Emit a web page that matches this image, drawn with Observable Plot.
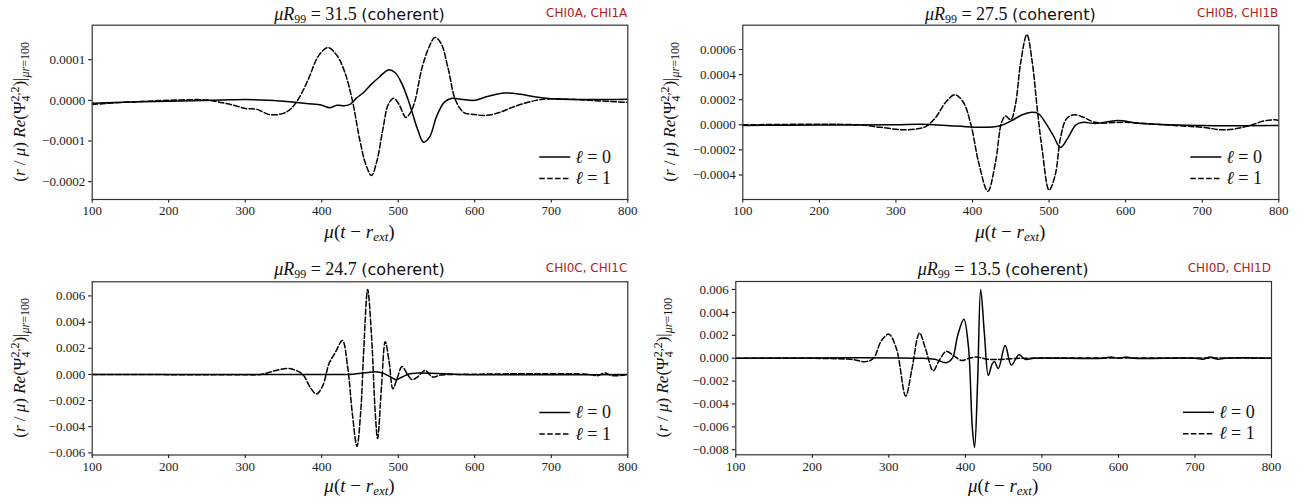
<!DOCTYPE html>
<html><head><meta charset="utf-8">
<script src="https://cdn.jsdelivr.net/npm/d3@7"></script>
<script src="https://cdn.jsdelivr.net/npm/@observablehq/plot@0.6"></script>
<style>
body{margin:0;background:#fff;}
#root{position:relative;width:1306px;height:504px;overflow:hidden;}
#root > svg{position:absolute;}
</style></head><body><div id="root"></div>
<script>
// ---------- data ----------
const xTicks = [100, 200, 300, 400, 500, 600, 700, 800];
const radii = ["31.5", "27.5", "24.7", "13.5"];
const runLabels = ["CHI0A, CHI1A", "CHI0B, CHI1B", "CHI0C, CHI1C", "CHI0D, CHI1D"];
const legendLabels = ["0", "1"];

const yTicksA = [-0.0002, -0.0001, 0, 0.0001];
const yTicksB = [-0.0004, -0.0002, 0, 0.0002, 0.0004, 0.0006];
const yTicksC = [-0.006, -0.004, -0.002, 0, 0.002, 0.004, 0.006];
const yTicksD = [-0.008, -0.006, -0.004, -0.002, 0, 0.002, 0.004, 0.006];

const l0A = [[100,-0.000007],[150,-0.000004],[200,-0.000002],[270,0.000001],[300,0.000002],[320,0.000001],[350,-0.000002],[380,-0.000008],[400,-0.000012],[410,-0.000018],[420,-0.000012],[430,-0.000013],[437,-0.00001],[445,0.000005],[455,0.00002],[465,0.00004],[475,0.000057],[487,0.000075],[496,0.000068],[505,0.00004],[515,-0.00001],[525,-0.00007],[533,-0.000103],[541,-0.00009],[550,-0.00004],[560,-0.000005],[570,0.000005],[582,0.000003],[600,0.0],[615,0.000009],[640,0.000018],[660,0.000015],[680,0.000008],[700,0.000004],[750,0.000002],[800,0.000003]];
const l1A = [[100,-0.00001],[150,-0.000004],[200,0.0],[250,0.000001],[270,-0.000006],[285,-0.000012],[300,-0.00002],[315,-0.000022],[332,-0.000035],[350,-0.000032],[360,-0.00002],[370,0.000005],[382,0.00005],[396,0.00011],[408,0.00013],[420,0.00011],[430,0.00007],[440,0.0],[450,-0.0001],[458,-0.00016],[465,-0.000185],[472,-0.00015],[480,-0.00007],[487,-0.00001],[494,0.000005],[501,-0.00001],[510,-0.000042],[516,-0.00003],[522,0.0],[531,0.00008],[540,0.00013],[548,0.000155],[556,0.00014],[565,0.00008],[575,0.0],[586,-0.00003],[600,-0.000035],[615,-0.000037],[632,-0.00003],[652,-0.000015],[680,0.0],[700,0.000004],[750,0.0],[800,-0.000005]];

const l0B = [[100,-0.000005],[200,-0.000002],[300,0.0],[330,0.000005],[380,-0.00001],[410,-0.00002],[435,-0.00001],[450,0.00003],[465,0.00008],[477,0.0001],[486,0.00009],[495,0.00002],[505,-0.00008],[515,-0.00018],[525,-0.0001],[535,0.0],[545,0.00002],[560,0.00001],[590,0.000035],[620,0.00001],[700,-0.000005],[800,-0.000005]];
const l1B = [[100,0.0],[250,0.0],[280,-0.00002],[310,-0.00004],[330,-0.00003],[340,-0.00001],[352,0.00006],[365,0.00018],[377,0.00024],[388,0.00018],[398,0.0],[408,-0.0003],[420,-0.00053],[430,-0.0003],[438,0.00002],[443,0.00007],[450,0.00004],[456,0.00016],[463,0.0005],[471,0.00072],[478,0.0005],[485,0.0001],[491,-0.0002],[500,-0.00052],[508,-0.0004],[515,-0.0001],[523,0.00005],[533,0.00008],[545,0.00006],[560,0.00002],[600,0.00002],[650,0.0],[700,-0.00002],[730,-0.00004],[760,-0.00001],[780,0.00003],[795,0.00004],[800,0.000035]];

const l0C = [[100,0.0],[400,0.0],[440,0.00002],[460,0.00015],[470,0.0002],[480,0.0001],[490,-0.0002],[497,-0.0004],[505,-0.0002],[515,0.00005],[525,0.0001],[560,0.00006],[580,0.0],[800,0.0]];
const l1C = [[100,0.0],[290,-0.00002],[320,0.0],[340,0.0003],[358,0.00045],[375,0.0],[385,-0.001],[393,-0.0015],[401,-0.0009],[410,0.0009],[418,0.0017],[427,0.0026],[434,0.0005],[440,-0.003],[446,-0.0055],[451,-0.0028],[455,0.002],[460,0.0065],[465,0.003],[470,-0.003],[473,-0.0049],[478,-0.001],[483,0.0025],[488,0.001],[493,-0.0011],[498,-0.0004],[505,0.0006],[512,0.0],[518,-0.0004],[525,-0.0002],[535,0.0003],[545,-0.0002],[555,-0.00005],[580,0.0],[750,0.0],[760,-0.0001],[770,0.0001],[780,-0.0001],[800,0.0]];

const l0D = [[100,0.0],[340,0.0],[360,-0.0001],[375,-0.0004],[383,0.0],[390,0.002],[398,0.0034],[404,0.001],[409,-0.006],[412,-0.0078],[416,-0.002],[420,0.006],[425,0.002],[430,-0.0015],[435,-0.0005],[438,-0.0003],[443,-0.0009],[452,0.0011],[460,-0.0006],[470,0.0003],[478,-0.0001],[490,0.0],[580,0.0],[590,0.0001],[600,0.0],[610,0.0001],[620,0.0],[700,0.0],[710,-0.0001],[720,0.0001],[730,-0.0001],[740,0.0],[800,0.0]];
const l1D = [[100,0.0],[250,-0.0001],[270,-0.0003],[280,0.0],[290,0.0015],[300,0.0021],[310,0.0008],[322,-0.0033],[330,-0.001],[340,0.0022],[348,0.0008],[358,-0.0011],[365,-0.0003],[375,0.0006],[385,0.0002],[395,-0.0002],[405,0.0],[415,0.0001],[430,-0.0001],[480,0.0],[800,0.0]];

// ---------- layout ----------
const panels = [
  {ox:0,   oy:0,   fx0:91.7,  fx1:627.3,  fy0:24.7,  fy1:199,   yd:[-0.000244,0.000185], yt:yTicksA, fmt:".4f", l0:l0A, l1:l1A, tb:20,  xb:238},
  {ox:650, oy:0,   fx0:742.3, fx1:1278.3, fy0:24.7,  fy1:199,   yd:[-0.000595,0.000794], yt:yTicksB, fmt:".4f", l0:l0B, l1:l1B, tb:20,  xb:238},
  {ox:0,   oy:254, fx0:91.7,  fx1:627.3,  fy0:281.3, fy1:454.5, yd:[-0.00616,0.00708],   yt:yTicksC, fmt:".3f", l0:l0C, l1:l1C, tb:275, xb:492},
  {ox:650, oy:254, fx0:735.3, fx1:1271,   fy0:281,   fy1:454.3, yd:[-0.00844,0.0067],    yt:yTicksD, fmt:".3f", l0:l0D, l1:l1D, tb:275, xb:492}
];
const W = 650, H = 250;
const root = document.getElementById("root");
const serif = "Liberation Serif, DejaVu Serif, serif";
const sans = "DejaVu Sans, Open Sans, sans-serif";

panels.forEach((p) => {
  const fmt = d3.format(p.fmt);
  const chart = Plot.plot({
    width: W, height: H,
    marginLeft: p.fx0 - p.ox, marginRight: p.ox + W - p.fx1,
    marginTop: p.fy0 - p.oy, marginBottom: p.oy + H - p.fy1,
    style: {background: "transparent", overflow: "visible", fontFamily: serif, fontSize: "13px"},
    x: {domain: [100, 800], ticks: xTicks, tickFormat: d => String(d), tickSize: 3.5, tickPadding: 3, label: null},
    y: {domain: p.yd, ticks: p.yt, tickFormat: fmt, tickSize: 3.5, tickPadding: 3.5, label: null},
    marks: [
      Plot.line(p.l1, {x: d => d[0], y: d => d[1], curve: "catmull-rom", stroke: "#000", strokeWidth: 1.5, strokeDasharray: "5.5,2.4", clip: true}),
      Plot.line(p.l0, {x: d => d[0], y: d => d[1], curve: "catmull-rom", stroke: "#000", strokeWidth: 1.5, clip: true}),
      Plot.frame({stroke: "#333", strokeWidth: 1.2})
    ]
  });
  chart.style.left = p.ox + "px";
  chart.style.top = p.oy + "px";
  d3.select(chart).attr("font-family", serif).attr("font-size", 13);
  d3.select(chart).selectAll("g").filter(function() { return this.getAttribute("font-size") || this.getAttribute("font-family"); })
    .attr("font-family", serif).attr("font-size", 13);
  d3.select(chart).selectAll("text")
    .attr("font-family", serif).attr("font-size", 13).attr("fill", "#222")
    .style("font-family", serif).style("font-size", "13px");
  root.appendChild(chart);
});

// ---------- overlay text ----------
const ov = d3.select(root).append("svg")
  .attr("width", 1306).attr("height", 504)
  .style("left", "0px").style("top", "0px").style("pointer-events", "none");

panels.forEach((p, i) => {
  const cx = (p.fx0 + p.fx1) / 2, cy = (p.fy0 + p.fy1) / 2;
  // title
  const t = ov.append("text").attr("x", cx).attr("y", p.tb).attr("text-anchor", "middle")
    .attr("font-size", 18).attr("fill", "#111").attr("font-family", serif);
  t.append("tspan").attr("font-style", "italic").text("μR");
  t.append("tspan").attr("font-size", 12).attr("dy", 3).text("99");
  t.append("tspan").attr("dy", -3).text(" = " + radii[i] + " ");
  t.append("tspan").attr("font-family", sans).attr("font-size", 16).text("(coherent)");
  // run label
  ov.append("text").attr("x", p.fx1).attr("y", p.tb - 3).attr("text-anchor", "end")
    .attr("font-family", sans).attr("font-size", 12).attr("fill", "#b0201c").text(runLabels[i]);
  // x label
  const xl = ov.append("text").attr("x", cx).attr("y", p.xb).attr("text-anchor", "middle")
    .attr("font-family", serif).attr("font-size", 19).attr("fill", "#111");
  xl.append("tspan").attr("font-style", "italic").text("μ");
  xl.append("tspan").text("(");
  xl.append("tspan").attr("font-style", "italic").text("t");
  xl.append("tspan").text(" − ");
  xl.append("tspan").attr("font-style", "italic").text("r");
  xl.append("tspan").attr("font-style", "italic").attr("font-size", 13).attr("dy", 3).text("ext");
  xl.append("tspan").attr("dy", -3).text(")");
  // y label
  const yl = ov.append("text").attr("transform", `translate(${p.fx0 - 67},${cy}) rotate(-90)`)
    .attr("text-anchor", "middle").attr("font-family", serif).attr("font-size", 17).attr("fill", "#111");
  yl.append("tspan").text("(");
  yl.append("tspan").attr("font-style", "italic").text("r");
  yl.append("tspan").text(" / ");
  yl.append("tspan").attr("font-style", "italic").text("μ");
  yl.append("tspan").text(") ");
  yl.append("tspan").attr("font-style", "italic").text("Re");
  yl.append("tspan").text("(Ψ");
  yl.append("tspan").attr("font-size", 12).attr("dy", -6).text("2,2");
  yl.append("tspan").attr("font-size", 12).attr("dx", -15).attr("dy", 11).text("4");
  yl.append("tspan").attr("dx", 9).attr("dy", -5).text(")|");
  yl.append("tspan").attr("font-size", 12).attr("font-style", "italic").attr("dy", 4).text("μr");
  yl.append("tspan").attr("font-size", 12).text("=100");
  // legend
  [0, 1].forEach(k => {
    const ry = p.fy1 - 42 + k * 21.5;
    ov.append("line").attr("x1", p.fx1 - 88).attr("x2", p.fx1 - 57).attr("y1", ry).attr("y2", ry)
      .attr("stroke", "#000").attr("stroke-width", 1.5).attr("stroke-dasharray", k ? "5.5,2.4" : null);
    const lt = ov.append("text").attr("x", p.fx1 - 52).attr("y", ry + 5.5).attr("font-family", serif)
      .attr("font-size", 18).attr("fill", "#111");
    lt.append("tspan").attr("font-style", "italic").text("ℓ");
    lt.append("tspan").text(" = " + legendLabels[k]);
  });
});
</script>
</body></html>
